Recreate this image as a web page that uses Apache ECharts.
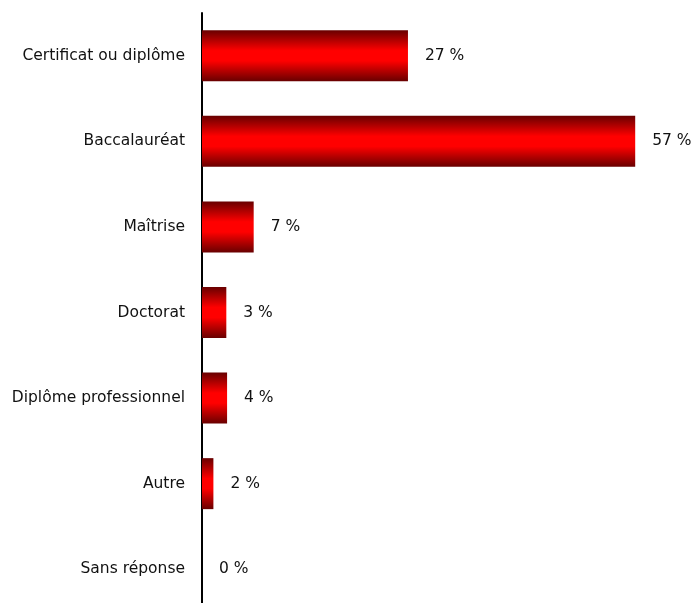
<!DOCTYPE html>
<html>
<head>
<meta charset="utf-8">
<script src="https://cdn.jsdelivr.net/npm/echarts@6/dist/echarts.min.js"></script>
<style>html,body{margin:0;padding:0;background:#fff;overflow:hidden}#c{width:697px;height:620px}</style>
</head>
<body>
<div id="c"></div>
<script>
const categories = ["Certificat ou diplôme","Baccalauréat","Maîtrise","Doctorat","Diplôme professionnel","Autre","Sans réponse"];
const values = [27.1, 57, 6.8, 3.2, 3.3, 1.5, 0];
const valueLabels = ["27 %","57 %","7 %","3 %","4 %","2 %","0 %"];

const chart = echarts.init(document.getElementById('c'), null, {renderer:'canvas'});
const grad = new echarts.graphic.LinearGradient(0,0,0,1,[
  {offset:0,color:'#680000'},
  {offset:0.4,color:'#ff0000'},
  {offset:0.6,color:'#ff0000'},
  {offset:1,color:'#680000'}
]);
chart.setOption({
  animation:false,
  backgroundColor:'#fff',
  grid:{left:202, top:13, width:456, height:599, containLabel:false},
  xAxis:{type:'value', min:0, max:60, show:false},
  yAxis:{type:'category', data:categories, inverse:true,
    axisLine:{show:true, lineStyle:{color:'#000', width:2}},
    axisTick:{show:false},
    axisLabel:{color:'#111', fontFamily:'DejaVu Sans', fontSize:15.5, margin:17}
  },
  series:[{
    type:'bar', data:values, barWidth:51,
    itemStyle:{color:grad},
    label:{show:true, position:'right', distance:17, color:'#111', fontFamily:'DejaVu Sans', fontSize:15.5,
      formatter:p=>valueLabels[p.dataIndex]}
  }]
});
</script>
</body>
</html>
